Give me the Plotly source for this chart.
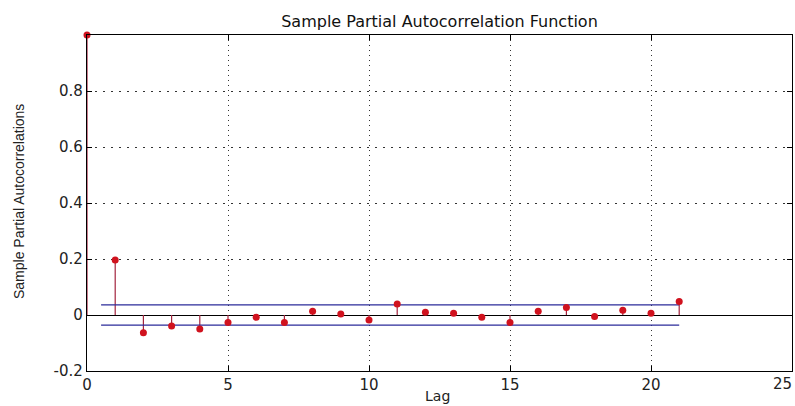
import plotly.graph_objects as go

lags = list(range(0, 22))
pacf = [1.0, 0.196, -0.063, -0.039, -0.050, -0.027, -0.008, -0.027, 0.013, 0.004,
        -0.018, 0.039, 0.010, 0.006, -0.008, -0.027, 0.013, 0.027, -0.005, 0.017,
        0.006, 0.048]
bound = 0.036
bound_x = [0.5, 21]

x_ticks = [0, 5, 10, 15, 20]
x_last_tick = 25
y_ticks = [-0.2, 0, 0.2, 0.4, 0.6, 0.8]
y_ticktext = ["-0.2", "0", "0.2", "0.4", "0.6", "0.8"]

# stems
sx, sy = [], []
for l, v in zip(lags, pacf):
    sx += [l, l, None]
    sy += [0, v, None]

fig = go.Figure()
fig.add_trace(go.Scatter(x=sx, y=sy, mode="lines",
                         line=dict(color="#a3243e", width=1.2),
                         hoverinfo="skip", showlegend=False))
fig.add_trace(go.Scatter(x=bound_x, y=[bound, bound], mode="lines",
                         line=dict(color="#2b2b9a", width=1.2), showlegend=False))
fig.add_trace(go.Scatter(x=bound_x, y=[-bound, -bound], mode="lines",
                         line=dict(color="#2b2b9a", width=1.2), showlegend=False))
fig.add_trace(go.Scatter(x=lags, y=pacf, mode="markers",
                         marker=dict(color="#d0121e", size=7),
                         showlegend=False, cliponaxis=False))

tick_font = dict(family="DejaVu Sans, Verdana, sans-serif", size=15, color="#222")
axis_common = dict(
    showline=True, linecolor="black", linewidth=1.2, mirror="ticks",
    ticks="inside", ticklen=5, tickcolor="black",
    showgrid=True, gridcolor="#333", gridwidth=1,
    tickfont=tick_font,
)

fig.update_layout(
    width=795, height=406,
    margin=dict(l=87, r=3, t=35, b=35),
    paper_bgcolor="white", plot_bgcolor="white",
    title=dict(text="Sample Partial Autocorrelation Function",
               font=dict(family="DejaVu Sans, Verdana, sans-serif", size=16, color="#111"),
               x=0.5, xref="paper", y=1 - 21 / 406, yref="container",
               xanchor="center", yanchor="middle"),
    xaxis=dict(range=[0, 25], tickvals=x_ticks + [x_last_tick],
               ticktext=[str(t) for t in x_ticks] + [""],
               zeroline=False, griddash="1px,4px", **axis_common),
    yaxis=dict(range=[-0.2, 1.0], tickvals=y_ticks, ticktext=y_ticktext,
               zeroline=True, zerolinecolor="black", zerolinewidth=1.2,
               griddash="2px,6px", **axis_common),
    annotations=[
        dict(text=str(x_last_tick), xref="x", yref="paper", x=x_last_tick,
             y=(371 - 384) / 336, showarrow=False, xanchor="right", yanchor="middle",
             xshift=2, font=tick_font),
        dict(text="Lag", xref="paper", yref="paper", x=(437 - 87) / 705,
             y=(371 - 396) / 336, showarrow=False, xanchor="center", yanchor="middle",
             font=dict(family="DejaVu Sans, Verdana, sans-serif", size=14, color="#222")),
        dict(text="Sample Partial Autocorrelations", xref="paper", yref="paper",
             x=(19 - 87) / 705, y=(371 - 202) / 336, textangle=-90, showarrow=False,
             xanchor="center", yanchor="middle",
             font=dict(family="Liberation Sans Narrow, Liberation Sans, Arial Narrow, sans-serif",
                       size=14, color="#222")),
    ],
)

fig.write_html("out.html")
